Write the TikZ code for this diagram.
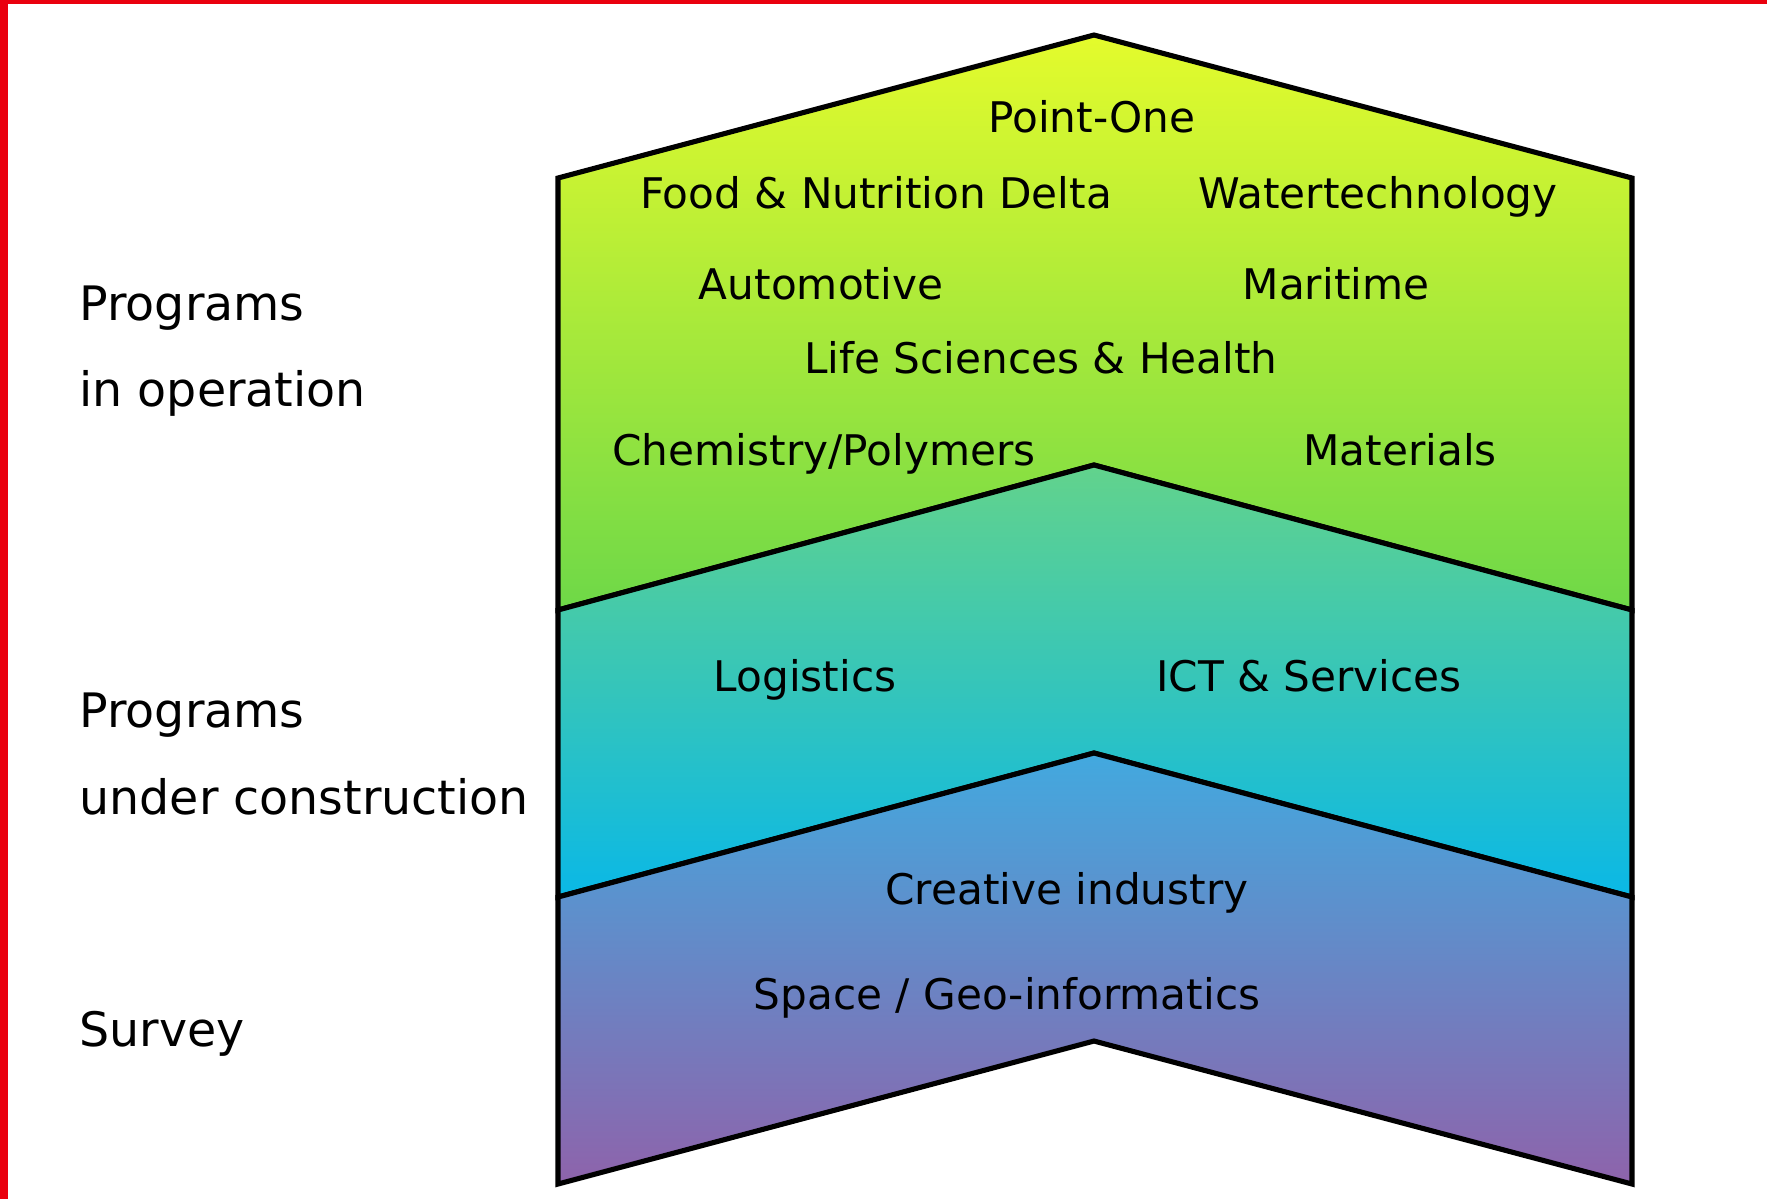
\documentclass[tikz,border=0pt]{standalone}
\usepackage{fontspec}
\setmainfont{DejaVu Sans}
\usepackage{xcolor}
\definecolor{cadre}{RGB}{234,0,14}
\definecolor{jauneH}{RGB}{228,251,44}
\definecolor{vertB}{RGB}{110,216,72}
\definecolor{vertH}{RGB}{98,211,140}
\definecolor{bleuB}{RGB}{10,184,230}
\definecolor{bleuH}{RGB}{66,169,223}
\definecolor{violetB}{RGB}{142,99,171}

\begin{document}
\begin{tikzpicture}[x=0.01cm,y=-0.01cm,line width=1.45pt,line join=miter,
	prog/.style={font=\fontsize{12}{14}\selectfont,inner sep=0pt,text height=0.76em,text depth=0pt},
	niveau/.style={font=\fontsize{13.5}{24.5}\selectfont,align=left,anchor=west,inner sep=0pt}]
	\def \xg{558}; % bord gauche
	\def \xd{1632}; % bord droit
	\def \xm{1094}; % pointe
	\useasboundingbox (0,0) rectangle (1767,1199);
	\fill[cadre] (0,0) rectangle (8,1199);
	\fill[cadre] (0,0) rectangle (1767,4);
	% les trois bandes
	\shade[top color=jauneH,bottom color=vertB,draw=black] (\xg,178) -- (\xm,35) -- (\xd,178) -- (\xd,610) -- (\xm,465) -- (\xg,610) -- cycle;
	\shade[top color=vertH,bottom color=bleuB,draw=black] (\xg,610) -- (\xm,465) -- (\xd,610) -- (\xd,897) -- (\xm,753) -- (\xg,897) -- cycle;
	\shade[top color=bleuH,bottom color=violetB,draw=black] (\xg,897) -- (\xm,753) -- (\xd,897) -- (\xd,1184) -- (\xm,1041) -- (\xg,1184) -- cycle;
	% programmes
	\node[prog] (pointone) at (1092,119) {Point-One};
	\node[prog] (food) at (876,195) {Food \& Nutrition Delta};
	\node[prog] (water) at (1378,195) {Watertechnology};
	\node[prog] (auto) at (821,286) {Automotive};
	\node[prog] (mari) at (1336,286) {Maritime};
	\node[prog] (life) at (1041,360) {Life Sciences \& Health};
	\node[prog] (chem) at (824,452) {Chemistry/Polymers};
	\node[prog] (mat) at (1400,452) {Materials};
	\node[prog] (logi) at (805,678) {Logistics};
	\node[prog] (ict) at (1309,678) {ICT \& Services};
	\node[prog] (crea) at (1067,891) {Creative industry};
	\node[prog] (space) at (1007,996) {Space / Geo-informatics};
	% niveaux
	\node[niveau] (oper) at (77,351) {Programs\\in operation};
	\node[niveau] (constr) at (77,754) {Programs\\under construction};
	\node[niveau] (survey) at (77,1034) {Survey};
\end{tikzpicture}
\end{document}
